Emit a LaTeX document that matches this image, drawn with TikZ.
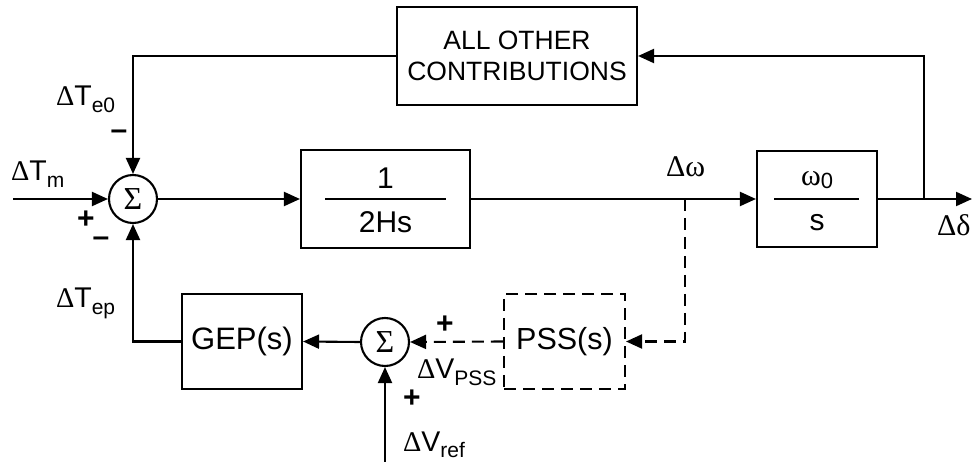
\documentclass[tikz,border=0pt]{standalone}
\usepackage{fontspec}
\setmainfont{Liberation Sans}
\newfontfamily\grk{Liberation Serif}
\usetikzlibrary{arrows.meta,calc}
\newcommand{\lsub}[1]{\raisebox{-0.22em}{\fontsize{21}{21}\selectfont #1}}
\newcommand{\osub}[1]{\raisebox{-0.12em}{\fontsize{22}{22}\selectfont #1}}
\begin{document}
\begin{tikzpicture}[x=1pt,y=-1pt,line width=2.1pt,
  blk/.style={draw,rectangle,inner sep=0pt,line width=2.1pt},
  sumnode/.style={draw,circle,minimum size=48pt,inner sep=0pt,font=\grk\fontsize{32}{32}\selectfont},
  lbl/.style={inner sep=0pt,anchor=base west,font=\fontsize{28.5}{28}\selectfont},
  frac/.style={inner sep=0pt,font=\fontsize{30}{30}\selectfont},
  sgn/.style={inner sep=0pt,font=\bfseries\fontsize{30}{30}\selectfont},
  conn/.style={-{Triangle[length=16pt,width=14pt]}},
  dsh/.style={dash pattern=on 12pt off 7pt}]
\useasboundingbox (0,0) rectangle (975,462);

% blocks
\node[sumnode] (s1) at (133,199) {Σ};
\node[blk,minimum width=169pt,minimum height=98pt] (g1) at (385.5,199) {};
\node[blk,minimum width=120pt,minimum height=96pt] (g2) at (817,199) {};
\node[blk,minimum width=240pt,minimum height=98pt,align=center,font=\fontsize{26.5}{31}\selectfont] (oc) at (517,56) {ALL OTHER\\CONTRIBUTIONS};
\node[blk,dsh,minimum width=121pt,minimum height=95pt,font=\fontsize{30.5}{30}\selectfont] (pss) at (564.5,341.5) {PSS(s)};
\node[sumnode] (s2) at (385,342) {Σ};
\node[blk,minimum width=120pt,minimum height=95pt,font=\fontsize{31}{30}\selectfont] (gep) at (242,341.5) {GEP(s)};

% fractions
\draw ($(g1.center)+(-60.5,0)$) -- ($(g1.center)+(60.5,0)$);
\node[frac] (n1) at (385.5,178) {1};
\node[frac] (d1) at (385.5,222) {2Hs};
\draw ($(g2.center)+(-43,0)$) -- ($(g2.center)+(42,0)$);
\node[frac] (n2) at (817,180) {{\grk\fontsize{30}{30}\selectfont ω}\osub{0}};
\node[frac] (d2) at (817,223) {s};

% coordinates
\coordinate (in) at (13,199);
\coordinate (out) at (972,199);
\coordinate (tap) at (924,199);
\coordinate (tapw) at (685,199);
\coordinate (ref) at (385,462);

% connectors
\draw[conn] (in) -- (s1);
\draw[conn] (s1) -- (g1);
\draw[conn] (g1) -- (g2);
\draw[conn] (g2) -- (out);
\draw[conn] (tap) |- (oc.east);
\draw[conn] (oc.west) -| (s1.north);
\draw[conn,dsh] (tapw) |- (pss.east);
\draw[conn,dsh] (pss.west) -- (s2.east);
\draw[conn] (s2.west) -- (gep.east);
\draw[conn] (gep.west) -| (s1.south);
\draw[conn] (ref) -- (s2.south);

% labels
\node[lbl] (lte0) at (55,106) {{\grk Δ}T\lsub{e0}};
\node[sgn] (m1) at (119,135) {–};
\node[lbl] (ltm) at (10,181) {{\grk Δ}T\lsub{m}};
\node[sgn] (p1) at (86,220) {+};
\node[sgn] (m2) at (101,242) {–};
\node[lbl] (ltep) at (55,308) {{\grk Δ}T\lsub{ep}};
\node[lbl,font=\grk\fontsize{30}{30}\selectfont] (lw) at (665,177) {Δω};
\node[lbl,font=\grk\fontsize{30}{30}\selectfont] (ld) at (936,236) {Δδ};
\node[sgn] (p2) at (445,325) {+};
\node[lbl] (lvp) at (416,379) {{\grk Δ}V\lsub{PSS}};
\node[sgn] (p3) at (412,399) {+};
\node[lbl] (lvr) at (402,451) {{\grk Δ}V\lsub{ref}};
\end{tikzpicture}
\end{document}
